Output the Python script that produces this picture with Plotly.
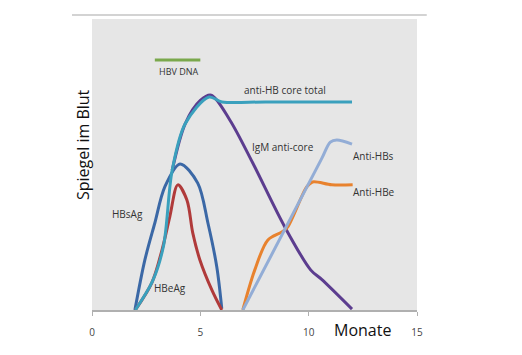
import plotly.graph_objects as go

# months and relative levels
hbv_dna_x = [2.9, 5.0]
hbv_dna_y = [85.9, 85.9]

core_total_x = [2.0, 2.8, 3.3, 3.7, 4.3, 5.4, 6.0, 8.0, 12.0]
core_total_y = [0.0, 10.0, 22.0, 48.0, 64.0, 73.2, 71.5, 71.5, 71.5]

igm_x = [3.7, 4.3, 5.0, 5.5, 6.36, 7.42, 8.9, 10.1, 10.6, 12.0]
igm_y = [48.0, 64.0, 72.0, 73.8, 65.3, 50.5, 28.5, 13.7, 10.5, 0.3]

hbsag_x = [1.98, 2.44, 2.9, 3.36, 4.06, 4.88, 5.35, 5.76, 5.99]
hbsag_y = [0.0, 17.2, 29.9, 42.3, 50.2, 43.6, 29.9, 14.8, 0.5]

hbeag_x = [2.0, 2.76, 3.23, 3.59, 3.96, 4.38, 4.65, 4.98, 5.53, 5.99]
hbeag_y = [0.0, 9.3, 20.6, 32.0, 43.0, 37.8, 26.5, 17.2, 6.9, 0.0]

anti_hbe_x = [6.96, 7.51, 8.11, 8.76, 9.03, 9.91, 10.18, 11.06, 12.03]
anti_hbe_y = [0.0, 13.7, 24.0, 26.8, 28.5, 42.3, 44.0, 43.0, 43.0]

anti_hbs_x = [6.96, 10.6, 11.0, 11.3, 12.0]
anti_hbs_y = [0.0, 52.0, 57.7, 58.4, 57.0]

x_ticks = [0, 5, 10, 15]

fig = go.Figure()

def add(x, y, color, shape="spline", smoothing=0.9):
    fig.add_trace(go.Scatter(x=x, y=y, mode="lines",
                             line=dict(color=color, width=3, shape=shape,
                                       smoothing=smoothing),
                             hoverinfo="skip", showlegend=False))

add(hbv_dna_x, hbv_dna_y, "#7aa84c", "linear")
add(hbsag_x, hbsag_y, "#3b68a6")
add(hbeag_x, hbeag_y, "#b03a3a")
add(igm_x, igm_y, "#5c3d8f")
add(core_total_x, core_total_y, "#3aa0bd")
add(anti_hbe_x, anti_hbe_y, "#e8822e")
add(anti_hbs_x, anti_hbs_y, "#93add6")

FONT = "Open Sans, Liberation Sans, sans-serif"
labels = [
    (4.0, 82.0, "HBV DNA", 9),
    (8.9, 75.5, "anti-HB core total", 10),
    (8.8, 56.0, "IgM anti-core", 10),
    (13.0, 53.0, "Anti-HBs", 10),
    (13.0, 40.5, "Anti-HBe", 10),
    (1.66, 33.0, "HBsAg", 10),
    (3.6, 7.5, "HBeAg", 10),
]
for x, y, t, s in labels:
    fig.add_annotation(x=x, y=y, text=t, showarrow=False,
                       font=dict(family=FONT, size=s, color="#333333"),
                       xref="x", yref="y")

fig.add_annotation(x=12.5, y=-0.069, xref="x", yref="paper", text="Monate",
                   showarrow=False, yanchor="middle",
                   font=dict(family=FONT, size=16, color="#111111"))
fig.add_annotation(x=-0.028, y=0.57, xref="paper", yref="paper", text="Spiegel im Blut",
                   showarrow=False, textangle=-90, xanchor="center", yanchor="middle",
                   font=dict(family=FONT, size=16, color="#111111"))

# thin rule above the chart
fig.add_shape(type="line", xref="paper", yref="paper", x0=-0.0615, x1=1.03,
              y0=1.0137, y1=1.0137, line=dict(color="#c4c4c4", width=1.5))

fig.update_layout(
    width=514, height=347,
    margin=dict(l=84, r=105, t=11, b=45),
    paper_bgcolor="white",
    plot_bgcolor="#e6e6e6",
    xaxis=dict(range=[0, 15], tickvals=x_ticks, ticktext=[str(v) for v in x_ticks],
               showgrid=False, zeroline=False, showline=True, linecolor="#b0b0b0",
               linewidth=1.5, ticks="outside", ticklen=4, tickcolor="#b0b0b0",
               ticklabelstandoff=8,
               tickfont=dict(family=FONT, size=10, color="#444444")),
    yaxis=dict(range=[0, 100], showgrid=False, zeroline=False, showticklabels=False,
               showline=False),
)

fig.write_html("out.html")
